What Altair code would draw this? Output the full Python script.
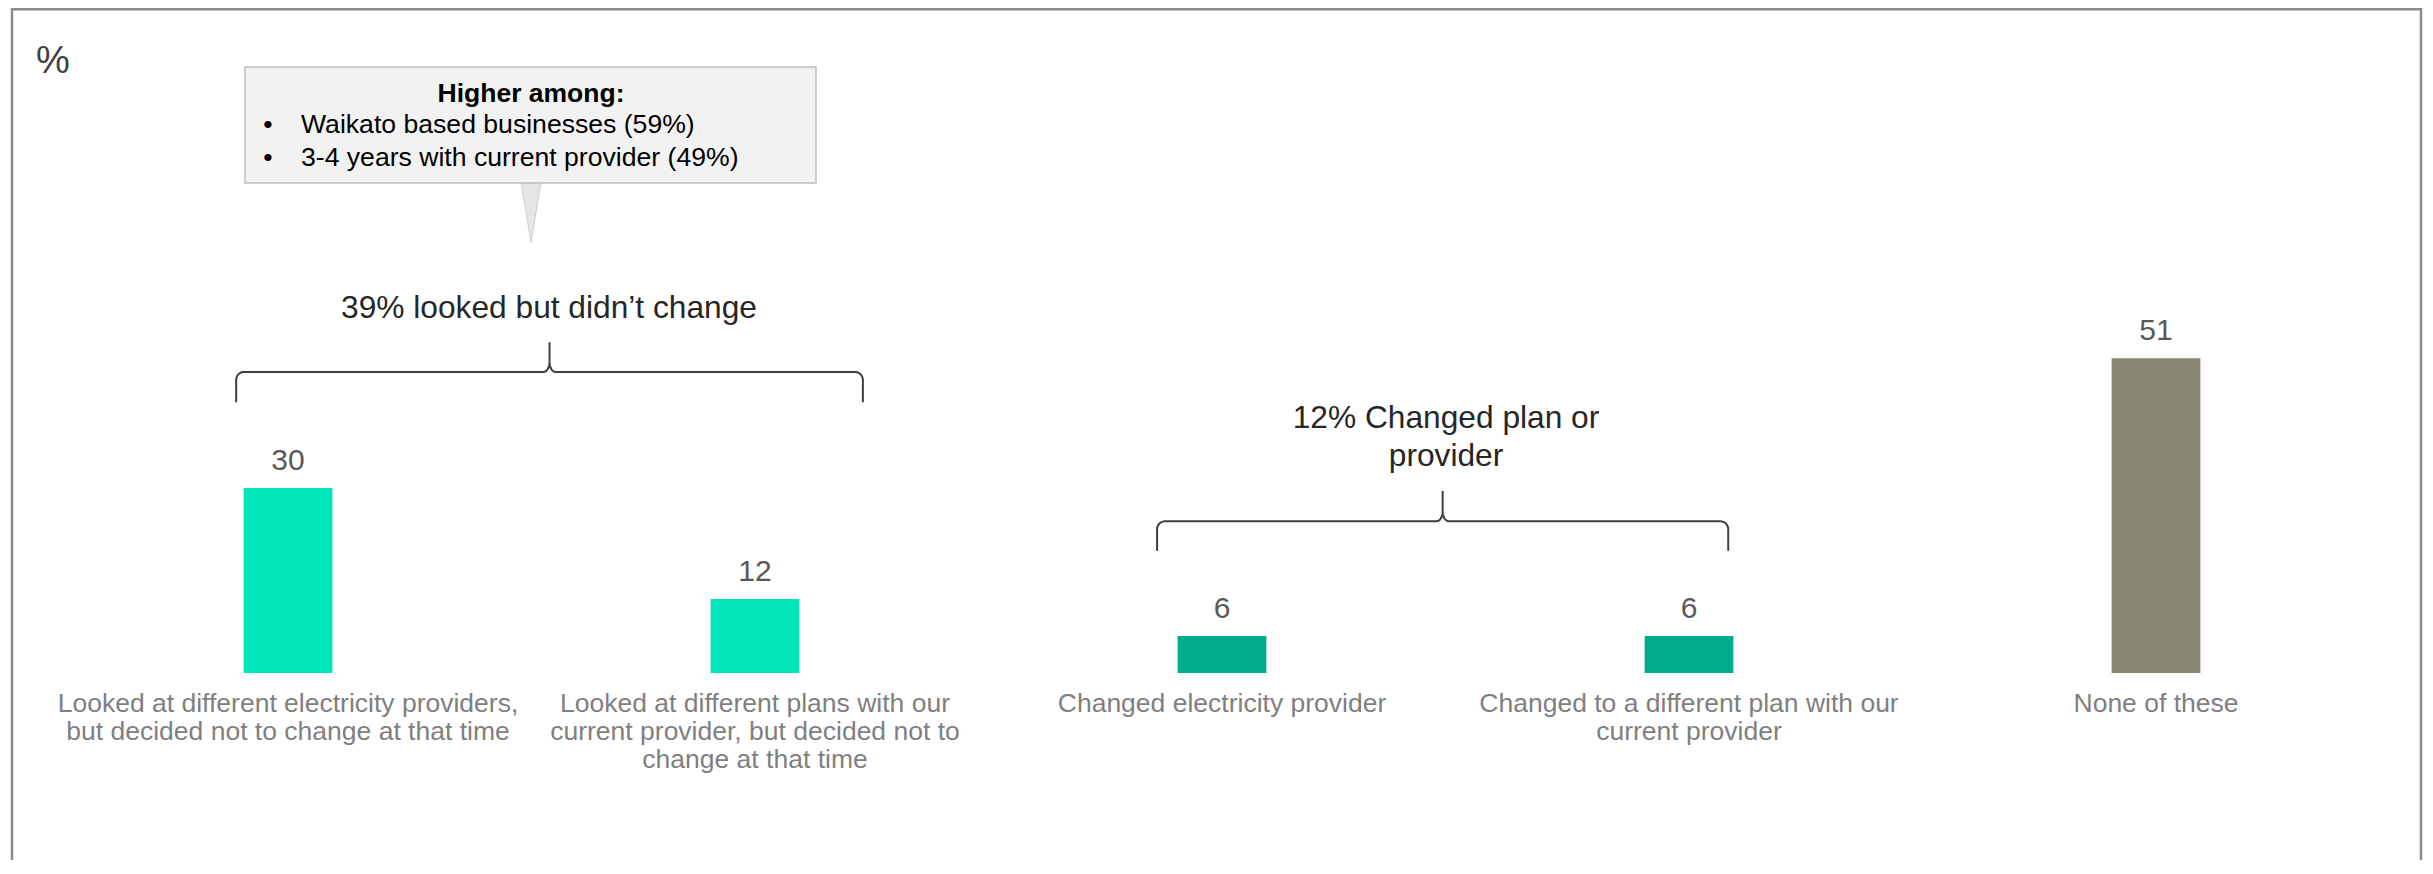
import math
import altair as alt
import pandas as pd

# ---------------- data ----------------
categories = [
    "Looked at different electricity providers,\nbut decided not to change at that time",
    "Looked at different plans with our\ncurrent provider, but decided not to\nchange at that time",
    "Changed electricity provider",
    "Changed to a different plan with our\ncurrent provider",
    "None of these",
]
values = [30, 12, 6, 6, 51]
bar_colors = ["#00E5BA", "#00E5BA", "#00AA8C", "#00AA8C", "#888670"]

brace_labels = ["39% looked but didn\u2019t change", "12% Changed plan or\nprovider"]
callout_title = "Higher among:"
callout_items = ["Waikato based businesses (59%)", "3-4 years with current provider (49%)"]
unit_label = "%"

# ---------------- layout constants ----------------
FONT = "Liberation Sans"
W, H = 2416, 852
X_RANGE = [46.5, 2381.5]          # band range of the five categories
Y_RANGE = [665, 48]               # pixel position of 0 and 100
N = len(categories)
KX = (X_RANGE[1] - X_RANGE[0]) / N
KY = (Y_RANGE[0] - Y_RANGE[1]) / 100.0

df = pd.DataFrame({"cat": categories, "value": values, "color": bar_colors, "base": [0] * N})

xscale = alt.Scale(domain=categories, range=X_RANGE, paddingInner=0.81, paddingOuter=0.405)
yscale = alt.Scale(domain=[0, 100], range=Y_RANGE, nice=False, zero=True)
xenc = alt.X("cat:N", sort=categories, scale=xscale, axis=None)

bars = alt.Chart(df).mark_bar().encode(
    x=xenc,
    y=alt.Y("value:Q", scale=yscale, axis=None),
    color=alt.Color("color:N", scale=None, legend=None),
)

value_labels = alt.Chart(df).mark_text(
    dy=-18, baseline="alphabetic", align="center", fontSize=30, font=FONT, color="#595959"
).encode(x=xenc, y=alt.Y("value:Q", scale=yscale, axis=None), text="value:Q")

cat_labels = alt.Chart(df).mark_text(
    dy=39, baseline="alphabetic", align="center", fontSize=26.5, font=FONT,
    color="#7F7F7F", lineBreak="\n", lineHeight=28
).encode(x=xenc, y=alt.Y("base:Q", scale=yscale, axis=None), text="cat:N")


# ---------------- braces (category-index units / percent units) ----------------
brace_specs = [
    # name, x start, x end, horizontal level, end level, tip level
    ("b1", 0.389, 1.731, 48.8, 43.9, 53.6),
    ("b2", 2.361, 3.584, 24.6, 19.8, 29.5),
]


def brace_rows(name, x0, x1, yh, ye, yt, r=8.0, rcx=6.0, rcy=10.0):
    pts = [(x0, ye)]
    # left corner
    cx, cy = x0 + r / KX, yh - r / KY
    for k in range(0, 9):
        a = math.radians(180 - 90 * k / 8)
        pts.append((cx + r * math.cos(a) / KX, cy + r * math.sin(a) / KY))
    xm = (x0 + x1) / 2
    # left half of cusp
    cx, cy = xm - rcx / KX, yh + rcy / KY
    for k in range(0, 9):
        a = math.radians(270 + 90 * k / 8)
        pts.append((cx + rcx * math.cos(a) / KX, cy + rcy * math.sin(a) / KY))
    pts.append((xm, yt))
    # right half of cusp
    cx, cy = xm + rcx / KX, yh + rcy / KY
    for k in range(0, 9):
        a = math.radians(180 + 90 * k / 8)
        pts.append((cx + rcx * math.cos(a) / KX, cy + rcy * math.sin(a) / KY))
    # right corner
    cx, cy = x1 - r / KX, yh - r / KY
    for k in range(0, 9):
        a = math.radians(90 - 90 * k / 8)
        pts.append((cx + r * math.cos(a) / KX, cy + r * math.sin(a) / KY))
    pts.append((x1, ye))
    return [{"brace": name, "i": i, "bx": p[0], "by": p[1]} for i, p in enumerate(pts)]


brace_df = pd.DataFrame([row for s in brace_specs for row in brace_rows(*s)])
braces = alt.Chart(brace_df).mark_line(color="#3F3F3F", strokeWidth=2, interpolate="linear").encode(
    x=alt.X("bx:Q", scale=alt.Scale(domain=[0, N], range=X_RANGE, nice=False, zero=False), axis=None),
    y=alt.Y("by:Q", scale=yscale, axis=None),
    order=alt.Order("i:Q"),
    detail="brace:N",
)


# ---------------- annotation helpers ----------------
def text_at(t, x, y, **kw):
    props = dict(font=FONT, baseline="alphabetic", align="center")
    props.update(kw)
    return alt.Chart(alt.Data(values=[{"t": t}])).mark_text(**props).encode(
        x=alt.value(x), y=alt.value(y), text="t:N"
    )


one = alt.Data(values=[{"k": 1}])

frame = alt.Chart(one).mark_rect(fillOpacity=0, stroke="#8C8C8C", strokeWidth=2.5).encode(
    x=alt.value(4), x2=alt.value(2413), y=alt.value(1.25), y2=alt.value(H + 30)
)

pointer = alt.Chart(one).mark_point(
    shape="M -0.33 -1 L 0.33 -1 L 0 1 Z", size=3481, filled=True,
    fill="#E6E6E6", stroke="#CFCFCF", strokeWidth=1, opacity=1
).encode(x=alt.value(523), y=alt.value(205))

box = alt.Chart(one).mark_rect(fill="#F2F2F2", stroke="#BFBFBF", strokeWidth=1.5).encode(
    x=alt.value(237), x2=alt.value(808), y=alt.value(59), y2=alt.value(175)
)

annotations = [
    text_at(unit_label, 45, 65, fontSize=38, color="#404040"),
    text_at(callout_title, 523, 94, fontSize=26.5, fontWeight="bold", color="#000000"),
    text_at("\u2022", 260, 125, fontSize=26.5, color="#000000"),
    text_at("\u2022", 260, 158, fontSize=26.5, color="#000000"),
    text_at(callout_items[0], 293, 125, fontSize=26.6, align="left", color="#000000"),
    text_at(callout_items[1], 293, 158, fontSize=26.6, align="left", color="#000000"),
    text_at(brace_labels[0], 541, 310, fontSize=31.7, color="#262626"),
    text_at(brace_labels[1], 1438, 420, fontSize=31.7, color="#262626", lineBreak="\n", lineHeight=38),
]

chart = alt.layer(
    frame, pointer, box, *annotations, braces, bars, value_labels, cat_labels
).resolve_scale(x="independent").properties(
    width=W, height=H,
    autosize=alt.AutoSizeParams(type="none"),
    padding={"left": 0, "top": 0, "right": 0, "bottom": 0},
    background="white",
).configure_view(stroke=None)

chart.save("out.html", embed_options={"renderer": "svg", "actions": False})
